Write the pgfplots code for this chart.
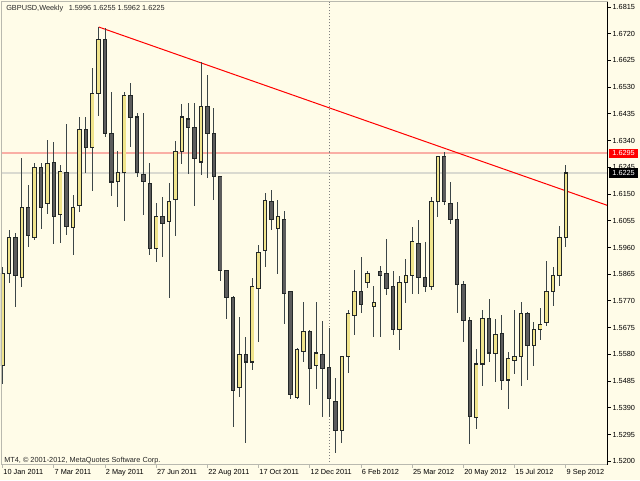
\documentclass[border=0pt]{standalone}
\usepackage{fontspec}
\setmainfont{Liberation Sans}
\usepackage{pgfplots}
\usepackage{pgfplotstable}
\pgfplotsset{compat=1.18}
\definecolor{bgc}{RGB}{255,252,232}
\definecolor{bullc}{RGB}{240,228,140}
\definecolor{bearc}{RGB}{92,92,92}
\definecolor{outc}{RGB}{35,40,40}
\definecolor{wickc}{RGB}{60,70,72}
\definecolor{hred}{RGB}{250,175,165}
\definecolor{hgray}{RGB}{218,218,208}
\definecolor{framec}{RGB}{185,185,175}
\newcommand\mt{\fontsize{5.5pt}{6.5pt}\selectfont}

\pgfplotstableread{
i O H L C
0 1.5542 1.5891 1.5475 1.5866
1 1.5866 1.6022 1.5834 1.5997
3 1.5855 1.6278 1.5820 1.6104
5 1.5997 1.6260 1.5987 1.6244
7 1.6115 1.6342 1.6079 1.6260
9 1.6076 1.6253 1.5976 1.6232
11 1.6033 1.6147 1.5933 1.6104
12 1.6108 1.6424 1.6086 1.6378
14 1.6317 1.6598 1.6161 1.6506
15 1.6506 1.6744 1.6428 1.6701
18 1.6193 1.6303 1.6104 1.6225
19 1.6228 1.6513 1.6054 1.6502
24 1.5955 1.6118 1.5909 1.6069
26 1.6054 1.6189 1.5781 1.6125
27 1.6132 1.6339 1.6001 1.6300
28 1.6300 1.6470 1.6257 1.6424
31 1.6264 1.6620 1.6218 1.6460
37 1.5464 1.5713 1.5428 1.5578
39 1.5553 1.5852 1.5525 1.5820
40 1.5816 1.5969 1.5624 1.5944
41 1.5948 1.6154 1.5891 1.6129
43 1.6026 1.6129 1.5866 1.6072
46 1.5428 1.5603 1.5421 1.5596
47 1.5589 1.5766 1.5553 1.5660
49 1.5539 1.5766 1.5457 1.5585
53 1.5311 1.5574 1.5265 1.5571
54 1.5571 1.5738 1.5514 1.5724
55 1.5717 1.5880 1.5649 1.5805
57 1.5837 1.5877 1.5816 1.5866
58 1.5749 1.5823 1.5642 1.5766
62 1.5667 1.5859 1.5596 1.5834
63 1.5834 1.5919 1.5763 1.5862
64 1.5862 1.6033 1.5795 1.5980
67 1.5820 1.6140 1.5809 1.6122
68 1.6122 1.6284 1.6069 1.6282
74 1.5357 1.5599 1.5315 1.5546
75 1.5546 1.5738 1.5467 1.5709
77 1.5585 1.5706 1.5482 1.5652
79 1.5489 1.5589 1.5386 1.5567
80 1.5560 1.5738 1.5510 1.5571
81 1.5571 1.5766 1.5467 1.5724
83 1.5613 1.5695 1.5539 1.5670
84 1.5670 1.5745 1.5631 1.5688
85 1.5692 1.5912 1.5681 1.5805
86 1.5802 1.5891 1.5752 1.5862
87 1.5862 1.6036 1.5823 1.5994
88 1.5996 1.6255 1.5962 1.6225
}\bull

\pgfplotstableread{
i O H L C
2 1.5994 1.6012 1.5749 1.5859
4 1.6104 1.6182 1.5962 1.6004
6 1.6244 1.6260 1.6026 1.6104
8 1.6264 1.6335 1.5972 1.6072
10 1.6228 1.6399 1.6004 1.6036
13 1.6381 1.6424 1.6225 1.6317
16 1.6701 1.6740 1.6353 1.6367
17 1.6367 1.6513 1.6143 1.6193
20 1.6502 1.6545 1.6317 1.6424
21 1.6424 1.6438 1.6211 1.6225
22 1.6221 1.6438 1.6076 1.6193
23 1.6189 1.6260 1.5933 1.5955
25 1.6072 1.6140 1.5926 1.6047
29 1.6417 1.6474 1.6221 1.6388
30 1.6388 1.6474 1.6108 1.6275
32 1.6460 1.6573 1.6207 1.6367
33 1.6367 1.6456 1.6129 1.6211
34 1.6211 1.6215 1.5841 1.5877
35 1.5877 1.5880 1.5706 1.5784
36 1.5784 1.5787 1.5322 1.5453
38 1.5578 1.5642 1.5265 1.5553
42 1.6125 1.6164 1.6022 1.6061
44 1.6058 1.6090 1.5688 1.5795
45 1.5802 1.5805 1.5421 1.5436
48 1.5660 1.5667 1.5400 1.5531
50 1.5581 1.5699 1.5357 1.5531
51 1.5535 1.5674 1.5357 1.5425
52 1.5414 1.5496 1.5230 1.5311
56 1.5805 1.5926 1.5727 1.5759
59 1.5873 1.5894 1.5642 1.5862
60 1.5866 1.5990 1.5791 1.5816
61 1.5820 1.5877 1.5649 1.5667
65 1.5976 1.6058 1.5795 1.5855
66 1.5855 1.5980 1.5802 1.5820
69 1.6282 1.6300 1.6111 1.6122
70 1.6118 1.6193 1.6044 1.6061
71 1.6061 1.6122 1.5727 1.5830
72 1.5827 1.5841 1.5624 1.5699
73 1.5699 1.5713 1.5261 1.5361
76 1.5709 1.5777 1.5553 1.5585
78 1.5656 1.5720 1.5453 1.5489
82 1.5724 1.5731 1.5489 1.5613
}\bear

\pgfplotsset{
  cwick/.style={draw=none, mark=none, forget plot,
    error bars/.cd, y dir=both, y explicit, error mark=none,
    error bar style={draw=wickc, line width=0.75pt, solid}},
  cbody/.style 2 args={draw=none, mark=none, forget plot,
    error bars/.cd, y dir=both, y explicit, error mark=none,
    error bar style={draw=#1, line width=#2, solid}},
}

\begin{document}
\begin{tikzpicture}
\fill[bgc] (0,0) rectangle (480pt,360pt);
\begin{axis}[
  at={(0.75pt,11.625pt)}, anchor=south west,
  scale only axis, width=455.25pt, height=347.25pt,
  xmin=-0.2656, xmax=94.578, ymin=1.51886, ymax=1.68346,
  axis line style={draw=none},
  tick align=outside, major tick length=2.25pt,
  xtick pos=bottom, ytick pos=right, yticklabel pos=right,
  xtick={0,8,16,24,32,40,48,56,64,72,80,88},
  xticklabels={10 Jan 2011,7 Mar 2011,2 May 2011,27 Jun 2011,22 Aug 2011,17 Oct 2011,12 Dec 2011,6 Feb 2012,25 Mar 2012,20 May 2012,15 Jul 2012,9 Sep 2012},
  ytick={1.5200,1.5295,1.5390,1.5485,1.5580,1.5675,1.5770,1.5865,1.5960,1.6055,1.6150,1.6245,1.6340,1.6435,1.6530,1.6625,1.6720,1.6815},
  yticklabels={1.5200,1.5295,1.5390,1.5485,1.5580,1.5675,1.5770,1.5865,1.5960,1.6055,1.6150,1.6245,1.6340,1.6435,1.6530,1.6625,1.6720,1.6815},
  xtick style={draw=framec, line width=0.75pt},
  ytick style={draw=black, line width=0.75pt},
  xticklabel style={font=\mt, anchor=north west, inner sep=0pt, xshift=0.4pt, yshift=-1.2pt},
  yticklabel style={font=\mt, anchor=west, inner sep=0pt, xshift=1pt},
  /pgf/number format/assume math mode=true,
]
% horizontal levels
\addplot[hred, line width=1.5pt, mark=none, forget plot] coordinates {(-0.2656,1.6295) (94.578,1.6295)};
\addplot[hgray, line width=1.5pt, mark=none, forget plot] coordinates {(-0.2656,1.6225) (94.578,1.6225)};
% separator
\addplot[gray, line width=0.75pt, dash pattern=on 0.75pt off 1.5pt, mark=none, forget plot] coordinates {(51,1.51886) (51,1.68346)};
% trend line
\addplot[red, line width=0.75pt, mark=none, forget plot] coordinates {(15,1.6744) (94.578,1.6109)};
% wicks
\addplot[cwick] table[x=i, y expr={(\thisrow{H}+\thisrow{L})/2}, y error expr={(\thisrow{H}-\thisrow{L})/2}] {\bull};
\addplot[cwick] table[x=i, y expr={(\thisrow{H}+\thisrow{L})/2}, y error expr={(\thisrow{H}-\thisrow{L})/2}] {\bear};
% body outlines
\addplot[cbody={outc}{3.3pt}] table[x=i, y expr={(\thisrow{O}+\thisrow{C})/2}, y error expr={abs(\thisrow{C}-\thisrow{O})/2+0.00018}] {\bull};
\addplot[cbody={outc}{3.3pt}] table[x=i, y expr={(\thisrow{O}+\thisrow{C})/2}, y error expr={abs(\thisrow{C}-\thisrow{O})/2+0.00018}] {\bear};
% body fills
\addplot[cbody={bullc}{1.95pt}] table[x=i, y expr={(\thisrow{O}+\thisrow{C})/2}, y error expr={max(abs(\thisrow{C}-\thisrow{O})/2-0.00018,0)}] {\bull};
\addplot[cbody={bearc}{1.95pt}] table[x=i, y expr={(\thisrow{O}+\thisrow{C})/2}, y error expr={max(abs(\thisrow{C}-\thisrow{O})/2-0.00018,0)}] {\bear};
\coordinate (p1) at (axis cs:94.578,1.6295);
\coordinate (p2) at (axis cs:94.578,1.6225);
\end{axis}
\draw[framec, line width=0.75pt] (current axis.south west) -- (current axis.north west) -- (current axis.north east);
\draw[framec, line width=0.75pt] (current axis.south west) -- (current axis.south east);
\draw[black, line width=0.75pt] (current axis.south east) -- (current axis.north east);
\node[fill=red, text=white, anchor=west, font=\mt, inner xsep=2.7pt, inner ysep=1.4pt, text height=4pt, text depth=0pt] at ([xshift=0.4pt]p1) {1.6295};
\node[fill=black, text=white, anchor=west, font=\mt, inner xsep=2.7pt, inner ysep=1.4pt, text height=4pt, text depth=0pt] at ([xshift=0.4pt]p2) {1.6225};
\node[anchor=base west, inner sep=0pt, font=\mt, text=black!85] at (4.5pt,352pt) {GBPUSD,Weekly\hspace*{4.2pt}1.5996 1.6255 1.5962 1.6225};
\node[anchor=base west, inner sep=0pt, font=\mt, text=black!85] at (3pt,13.5pt) {MT4, © 2001-2012, MetaQuotes Software Corp.};
\pgfresetboundingbox
\useasboundingbox (0,0) rectangle (480pt,360pt);
\end{tikzpicture}
\end{document}
